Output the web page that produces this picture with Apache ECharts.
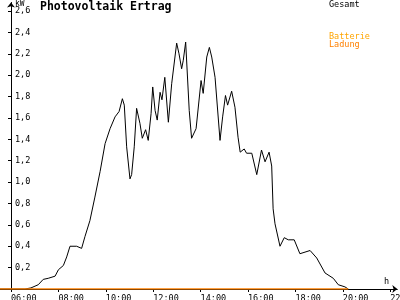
<!DOCTYPE html>
<html>
<head>
<meta charset="utf-8">
<script src="https://cdn.jsdelivr.net/npm/echarts@6/dist/echarts.min.js"></script>
<style>html,body{margin:0;padding:0;background:#fff;}#c{width:400px;height:300px;}</style>
</head>
<body>
<div id="c"></div>
<script>
// Time of day in hours, and output in kW (series "Gesamt")
var gesamtTime = [5.5, 6.59, 6.84, 7.15, 7.36, 7.57, 7.86, 8.00, 8.21, 8.35, 8.49, 8.77, 8.98, 9.12, 9.33, 9.54, 9.76, 9.97, 10.18, 10.39, 10.56, 10.70, 10.78, 10.88, 11.02, 11.09, 11.20, 11.30, 11.44, 11.54, 11.68, 11.79, 11.91, 11.98, 12.08, 12.17, 12.29, 12.37, 12.49, 12.64, 12.78, 12.99, 13.09, 13.20, 13.27, 13.37, 13.52, 13.62, 13.81, 14.02, 14.11, 14.26, 14.37, 14.47, 14.61, 14.82, 14.93, 15.05, 15.14, 15.31, 15.45, 15.58, 15.67, 15.84, 15.94, 16.16, 16.37, 16.57, 16.72, 16.89, 17.00, 17.06, 17.14, 17.35, 17.53, 17.70, 17.95, 18.19, 18.62, 18.90, 19.25, 19.60, 19.81, 20.09, 20.23];
var gesamtKW = [0, 0, 0.01, 0.04, 0.09, 0.10, 0.12, 0.18, 0.22, 0.30, 0.40, 0.40, 0.38, 0.49, 0.64, 0.86, 1.10, 1.36, 1.50, 1.61, 1.66, 1.78, 1.72, 1.33, 1.03, 1.07, 1.33, 1.69, 1.55, 1.41, 1.49, 1.39, 1.64, 1.89, 1.67, 1.58, 1.84, 1.77, 1.98, 1.56, 1.92, 2.30, 2.20, 2.06, 2.14, 2.31, 1.67, 1.41, 1.50, 1.95, 1.83, 2.17, 2.26, 2.17, 1.98, 1.39, 1.61, 1.81, 1.72, 1.85, 1.70, 1.42, 1.28, 1.31, 1.27, 1.27, 1.07, 1.30, 1.19, 1.28, 1.15, 0.75, 0.61, 0.40, 0.48, 0.46, 0.46, 0.33, 0.36, 0.29, 0.15, 0.10, 0.04, 0.02, 0];
// Battery charging ("Ladung")
var ladungTime = [5.5, 20.23];
var ladungKW = [0, 0];
// Tick labels
var xTicks = [6, 8, 10, 12, 14, 16, 18, 20, 22];
var yTicks = [0.2, 0.4, 0.6, 0.8, 1.0, 1.2, 1.4, 1.6, 1.8, 2.0, 2.2, 2.4, 2.6];

function pairs(t, v) { return t.map(function (x, i) { return [x, v[i]]; }); }
function pad(n) { return (n < 10 ? '0' : '') + n; }

var FONT = 'DejaVu Sans Mono';
var chart = echarts.init(document.getElementById('c'), null, {renderer: 'canvas'});
chart.setOption({
  animation: false,
  backgroundColor: '#ffffff',
  title: {
    text: 'Photovoltaik Ertrag', left: 40, top: 1, padding: 0,
    textStyle: {fontFamily: FONT, fontWeight: 'bold', fontSize: 11.5, color: '#000'}
  },
  grid: {left: -0.85, right: 2.7, top: 2.5, bottom: 11, containLabel: false, outerBoundsMode: 'none'},
  xAxis: {
    type: 'value', min: 5.5, max: 22.3,
    axisLine: {show: true, symbol: ['none', 'arrow'], symbolSize: [6, 5], lineStyle: {color: '#000', width: 1}},
    axisTick: {show: true, customValues: xTicks, length: 3, lineStyle: {color: '#000'}},
    axisLabel: {
      show: true, customValues: xTicks, align: 'left', margin: 5,
      fontFamily: FONT, fontSize: 8.5, color: '#000', hideOverlap: false,
      formatter: function (v) { return pad(Math.round(v)) + ':00'; }
    },
    splitLine: {show: false}
  },
  yAxis: {
    type: 'value', min: 0, max: 2.68, offset: -11.85,
    axisLine: {show: true, symbol: ['none', 'arrow'], symbolSize: [6, 5], lineStyle: {color: '#000', width: 1}},
    axisTick: {show: true, customValues: yTicks, length: 3, lineStyle: {color: '#000'}},
    axisLabel: {
      show: true, inside: true, customValues: yTicks, margin: 4,
      fontFamily: FONT, fontSize: 8.5, color: '#000',
      formatter: function (v) { return v.toFixed(1).replace('.', ','); }
    },
    splitLine: {show: false}
  },
  graphic: [
    {type: 'text', left: 15, top: 0, style: {text: 'kW', font: '8px ' + FONT, fill: '#000'}},
    {type: 'text', left: 384, top: 277, style: {text: 'h', font: '8.5px ' + FONT, fill: '#000'}},
    {type: 'text', left: 329, top: 0, style: {text: 'Gesamt', font: '8.5px ' + FONT, fill: '#000'}},
    {type: 'text', left: 329, top: 32, style: {text: 'Batterie', font: '8.5px ' + FONT, fill: '#ffa500'}},
    {type: 'text', left: 329, top: 40, style: {text: 'Ladung', font: '8.5px ' + FONT, fill: '#ff8000'}}
  ],
  series: [
    {
      name: 'Gesamt', type: 'line', data: pairs(gesamtTime, gesamtKW),
      showSymbol: false, smooth: false, lineStyle: {color: '#000', width: 1}, z: 2
    },
    {
      name: 'Ladung', type: 'line', data: pairs(ladungTime, ladungKW),
      showSymbol: false, lineStyle: {color: '#ff8000', width: 1.5}, z: 3
    }
  ]
});
</script>
</body>
</html>
